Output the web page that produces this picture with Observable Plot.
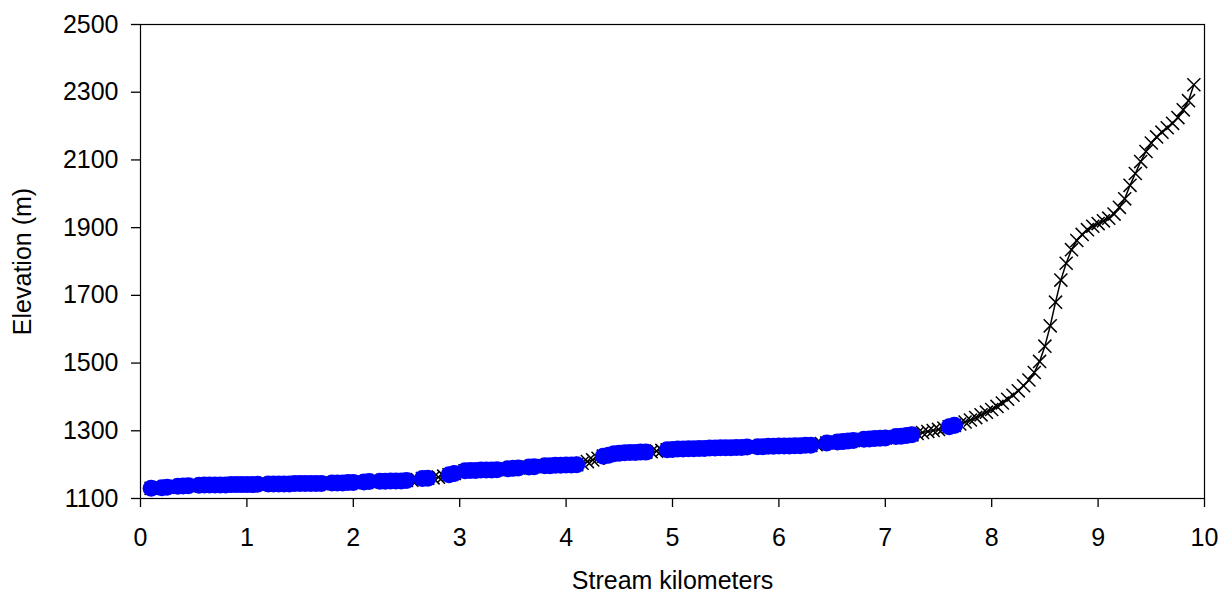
<!DOCTYPE html>
<html><head><meta charset="utf-8">
<script src="https://cdn.jsdelivr.net/npm/d3@7"></script>
<script src="https://cdn.jsdelivr.net/npm/@observablehq/plot@0.6"></script>
<style>body{margin:0;background:#fff}</style>
</head><body><div id="chart"></div>
<script>
const streamKm = [
  0.10,0.15,0.20,0.25,0.30,0.35,0.40,0.45,0.50,0.55,
  0.60,0.65,0.70,0.75,0.80,0.85,0.90,0.95,1.00,1.05,
  1.10,1.15,1.20,1.25,1.30,1.35,1.40,1.45,1.50,1.55,
  1.60,1.65,1.70,1.75,1.80,1.85,1.90,1.95,2.00,2.05,
  2.10,2.15,2.20,2.25,2.30,2.35,2.40,2.45,2.50,2.55,
  2.60,2.65,2.70,2.75,2.80,2.85,2.90,2.95,3.00,3.05,
  3.10,3.15,3.20,3.25,3.30,3.35,3.40,3.45,3.50,3.55,
  3.60,3.65,3.70,3.75,3.80,3.85,3.90,3.95,4.00,4.05,
  4.10,4.15,4.20,4.25,4.30,4.35,4.40,4.45,4.50,4.55,
  4.60,4.65,4.70,4.75,4.80,4.85,4.90,4.95,5.00,5.05,
  5.10,5.15,5.20,5.25,5.30,5.35,5.40,5.45,5.50,5.55,
  5.60,5.65,5.70,5.75,5.80,5.85,5.90,5.95,6.00,6.05,
  6.10,6.15,6.20,6.25,6.30,6.35,6.40,6.45,6.50,6.55,
  6.60,6.65,6.70,6.75,6.80,6.85,6.90,6.95,7.00,7.05,
  7.10,7.15,7.20,7.25,7.30,7.35,7.40,7.45,7.50,7.55,
  7.60,7.65,7.70,7.75,7.80,7.85,7.90,7.95,8.00,8.05,
  8.10,8.15,8.20,8.25,8.30,8.35,8.40,8.45,8.50,8.55,
  8.60,8.65,8.70,8.75,8.80,8.85,8.90,8.95,9.00,9.05,
  9.10,9.15,9.20,9.25,9.30,9.35,9.40,9.45,9.50,9.55,
  9.60,9.65,9.70,9.75,9.80,9.85,9.90
];
const elevation = [
  1130,1131,1132,1133,1134,1136,1137,1138,1139,1139,
  1140,1140,1140,1140,1140,1141,1141,1141,1141,1141,
  1142,1142,1143,1143,1143,1143,1143,1144,1144,1144,
  1144,1144,1144,1145,1146,1146,1146,1147,1147,1148,
  1149,1150,1150,1151,1151,1152,1152,1152,1153,1154,
  1156,1159,1160,1161,1163,1166,1170,1174,1178,1182,
  1183,1183,1184,1184,1184,1185,1186,1188,1189,1190,
  1191,1193,1194,1195,1197,1197,1198,1198,1199,1199,
  1200,1204,1209,1214,1219,1225,1228,1232,1234,1235,
  1236,1236,1237,1237,1238,1240,1242,1244,1245,1246,
  1246,1247,1247,1248,1248,1249,1249,1250,1250,1250,
  1251,1251,1252,1252,1253,1253,1254,1254,1255,1255,
  1255,1256,1256,1257,1257,1259,1262,1264,1266,1267,
  1268,1270,1271,1273,1275,1276,1277,1278,1279,1281,
  1283,1284,1286,1288,1292,1295,1298,1301,1304,1308,
  1312,1316,1320,1326,1332,1339,1347,1355,1363,1372,
  1382,1393,1405,1418,1433,1450,1472,1505,1550,1610,
  1680,1745,1795,1835,1862,1880,1894,1904,1912,1920,
  1928,1940,1960,1985,2025,2060,2095,2125,2150,2168,
  2182,2195,2208,2225,2248,2275,2322
];
// 1 = point drawn as blue circle (low-gradient reach), 0 = only the black x marker
const lowGradient = [
  1,0,1,1,0,1,1,1,0,1,
  1,1,1,1,1,1,1,1,1,1,
  1,0,1,1,1,1,1,1,1,1,
  1,1,1,0,1,1,1,1,1,0,
  1,1,0,1,1,1,1,1,1,0,
  0,1,1,0,0,0,1,1,0,1,
  1,1,1,1,1,1,0,1,1,1,
  0,1,1,0,1,1,1,1,1,1,
  1,0,0,0,0,1,1,1,1,1,
  1,1,1,1,0,0,0,1,1,1,
  1,1,1,1,1,1,1,1,1,1,
  1,1,1,0,1,1,1,1,1,1,
  1,1,1,1,1,0,0,1,0,1,
  1,1,1,0,1,1,1,1,1,0,
  1,1,1,1,0,0,0,0,0,0,
  1,1,0,0,0,0,0,0,0,0,
  0,0,0,0,0,0,0,0,0,0,
  0,0,0,0,0,0,0,0,0,0,
  0,0,0,0,0,0,0,0,0,0,
  0,0,0,0,0,0,0
];
const xTicks = [0,1,2,3,4,5,6,7,8,9,10];
const yTicks = [1100,1300,1500,1700,1900,2100,2300,2500];
const xLabel = "Stream kilometers";
const yLabel = "Elevation (m)";

const profile = streamKm.map((km, i) => ({km, elev: elevation[i], low: lowGradient[i] === 1}));
const FS = 25;

const chart = Plot.plot({
  width: 1220, height: 595,
  marginLeft: 140, marginRight: 16, marginTop: 24, marginBottom: 97,
  style: {fontFamily: '"Liberation Sans", Arial, sans-serif', fontSize: FS + "px", color: "#000", background: "#fff"},
  x: {domain: [0, 10]},
  y: {domain: [1100, 2500]},
  marks: [
    Plot.frame({stroke: "#000", strokeWidth: 1.2}),
    Plot.axisX({ticks: xTicks, tickSize: 9, tickPadding: 21, tickFormat: d => String(d), label: null, strokeWidth: 1.3, fontSize: FS}),
    Plot.axisY({ticks: yTicks, tickSize: 9, tickPadding: 13, tickFormat: d => String(d), label: null, strokeWidth: 1.3, fontSize: FS}),
    Plot.line(profile, {x: "km", y: "elev", stroke: "#000", strokeWidth: 1.5}),
    Plot.dot(profile, {x: "km", y: "elev", symbol: "times", r: 6, stroke: "#000", strokeWidth: 1.5}),
    Plot.dot(profile.filter(d => d.low), {x: "km", y: "elev", r: 8.5, fill: "#0000ff"}),
    Plot.text([xLabel], {text: d => d, frameAnchor: "bottom", dy: 82, textAnchor: "middle", lineAnchor: "middle", fontSize: FS}),
    Plot.text([yLabel], {text: d => d, frameAnchor: "left", dx: -118, rotate: -90, textAnchor: "middle", lineAnchor: "middle", fontSize: FS})
  ]
});
document.getElementById("chart").appendChild(chart);
</script>
</body></html>
